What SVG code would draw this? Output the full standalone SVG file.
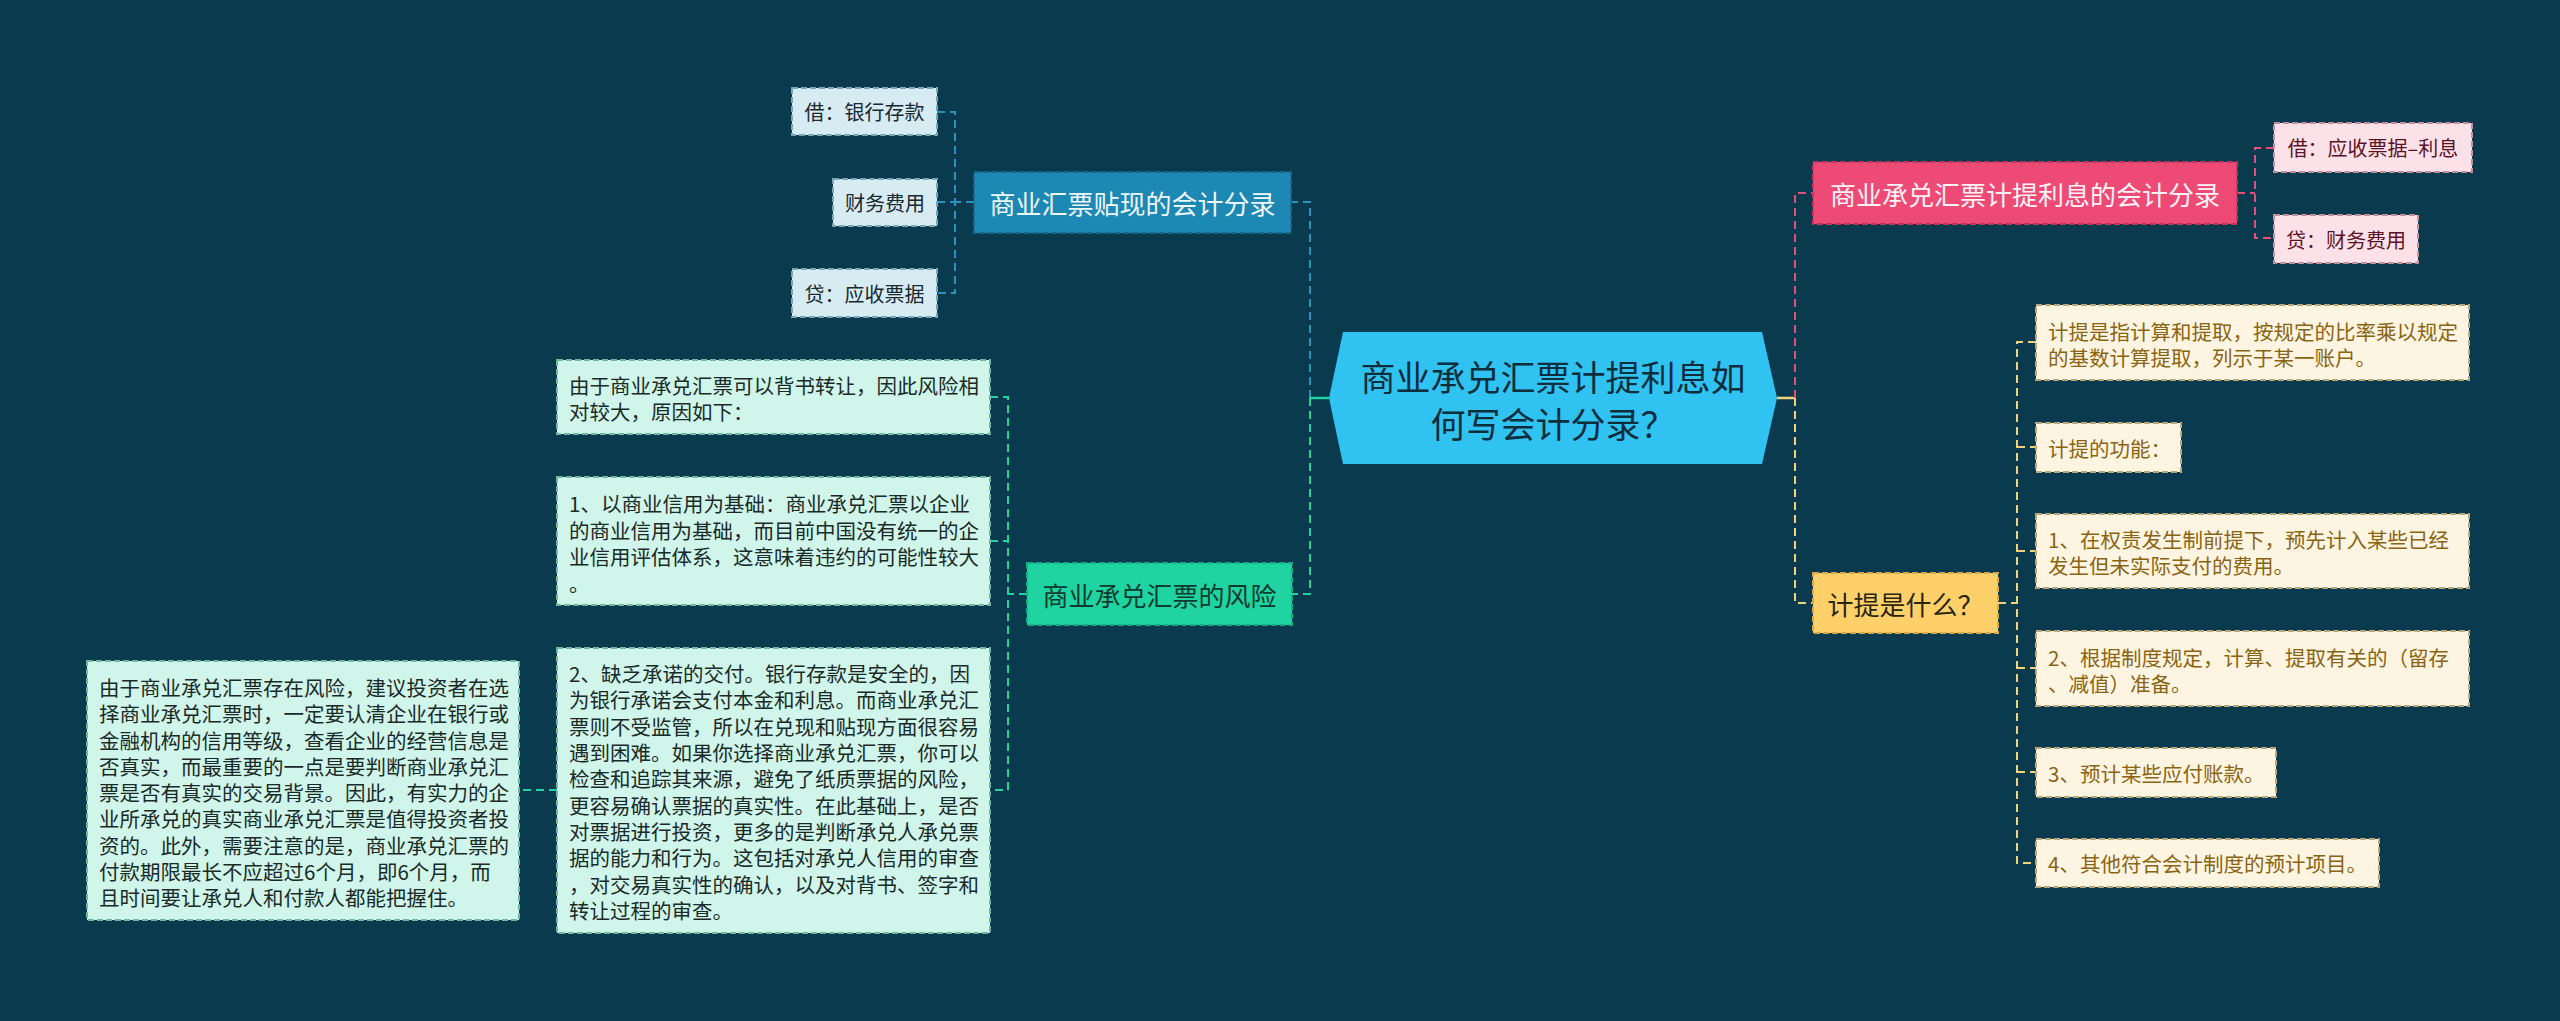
<svg xmlns="http://www.w3.org/2000/svg" width="2560" height="1021" viewBox="0 0 2560 1021">
<style>
text{font-family:"Noto Sans CJK SC","Noto Sans",sans-serif;dominant-baseline:central}
.c{stroke-width:2;fill:none;stroke-dasharray:8 5}
.s{stroke-width:2.5;fill:none}
.blue{stroke:#2a93bd}.green{stroke:#22d3a2}.pink{stroke:#e24f78}.yel{stroke:#f3d27a}
.box{stroke-width:2;stroke-dasharray:6 3}
.mid{font-size:26px;text-anchor:middle}
.lf{font-size:20.5px}
.lfc{font-size:20px;text-anchor:middle}
</style>
<rect width="2560" height="1021" fill="#0a3a4d"/>
<g id="connectors">
  <path class="c blue" d="M1310,398 V202 H1291"/>
  <path class="c blue" d="M974,202 H955 M937,112 H955 V293 H937 M937,202 H955"/>
  <path class="s green" d="M1329,398 H1310"/>
  <path class="c green" d="M1310,398 V594 H1292"/>
  <path class="c green" d="M1027,594 H1008 M990,397 H1008 V790 H990 M990,541 H1008"/>
  <path class="c green" d="M557,790 H519"/>
  <path class="s yel" d="M1777,398 H1795"/>
  <path class="c pink" d="M1795,398 V193 H1813"/>
  <path class="c pink" d="M2237,193 H2255 M2274,148 H2255 V238 H2274"/>
  <path class="c yel" d="M1795,398 V603 H1813"/>
  <path class="c yel" d="M1998,603 H2017 M2036,342 H2017 V863 H2036 M2017,447 H2036 M2017,551 H2036 M2017,668 H2036 M2017,772 H2036"/>
</g>
<g id="center">
  <polygon points="1329,398 1343,332 1762,332 1777,398 1762,464 1343,464" fill="#30c3f2"/>
  <text x="1553" y="375" font-size="35" text-anchor="middle" fill="#0f2d3b">商业承兑汇票计提利息如</text>
  <text x="1553" y="422" font-size="35" text-anchor="middle" fill="#0f2d3b">何写会计分录？</text>
</g>
<g id="n-discount">
  <rect class="box" x="974" y="172" width="317" height="61" fill="#1d88b3" stroke="#136a8c"/>
  <text class="mid" x="1132.5" y="202.5" fill="#eef8fb">商业汇票贴现的会计分录</text>
</g>
<g id="n-discount-1">
  <rect class="box" x="792" y="88" width="145" height="47" fill="#d6ebf2" stroke="#7aa5b5"/>
  <text class="lfc" x="864.5" y="111.5" fill="#1a2830">借：银行存款</text>
</g>
<g id="n-discount-2">
  <rect class="box" x="833" y="179" width="104" height="47" fill="#d6ebf2" stroke="#7aa5b5"/>
  <text class="lfc" x="885" y="202.5" fill="#1a2830">财务费用</text>
</g>
<g id="n-discount-3">
  <rect class="box" x="792" y="269" width="145" height="48" fill="#d6ebf2" stroke="#7aa5b5"/>
  <text class="lfc" x="864.5" y="293" fill="#1a2830">贷：应收票据</text>
</g>
<g id="n-risk">
  <rect class="box" x="1027" y="563" width="265" height="62" fill="#1fd4a0" stroke="#15ae82"/>
  <text class="mid" x="1159.5" y="594" fill="#0e3a30">商业承兑汇票的风险</text>
</g>
<g id="n-risk-1">
  <rect class="box" x="557" y="360" width="433" height="74" fill="#d0f5ea" stroke="#6fb7a3"/>
  <text class="lf" fill="#1a2a28"><tspan x="569" y="385">由于商业承兑汇票可以背书转让，因此风险相</tspan><tspan x="569" y="411">对较大，原因如下：</tspan></text>
</g>
<g id="n-risk-2">
  <rect class="box" x="557" y="477" width="433" height="128" fill="#d0f5ea" stroke="#6fb7a3"/>
  <text class="lf" fill="#1a2a28"><tspan x="569" y="503">1、以商业信用为基础：商业承兑汇票以企业</tspan><tspan x="569" y="529.5">的商业信用为基础，而目前中国没有统一的企</tspan><tspan x="569" y="556">业信用评估体系，这意味着违约的可能性较大</tspan><tspan x="569" y="582.5">。</tspan></text>
</g>
<g id="n-risk-3">
  <rect class="box" x="557" y="648" width="433" height="285" fill="#d0f5ea" stroke="#6fb7a3"/>
  <text class="lf" fill="#1a2a28"><tspan x="569" y="673">2、缺乏承诺的交付。银行存款是安全的，因</tspan><tspan x="569" y="699.3">为银行承诺会支付本金和利息。而商业承兑汇</tspan><tspan x="569" y="725.6">票则不受监管，所以在兑现和贴现方面很容易</tspan><tspan x="569" y="752">遇到困难。如果你选择商业承兑汇票，你可以</tspan><tspan x="569" y="778.3">检查和追踪其来源，避免了纸质票据的风险，</tspan><tspan x="569" y="804.6">更容易确认票据的真实性。在此基础上，是否</tspan><tspan x="569" y="831">对票据进行投资，更多的是判断承兑人承兑票</tspan><tspan x="569" y="857.3">据的能力和行为。这包括对承兑人信用的审查</tspan><tspan x="569" y="883.6">，对交易真实性的确认，以及对背书、签字和</tspan><tspan x="569" y="910">转让过程的审查。</tspan></text>
</g>
<g id="n-risk-3-1">
  <rect class="box" x="87" y="661" width="432" height="259" fill="#d0f5ea" stroke="#6fb7a3"/>
  <text class="lf" fill="#1a2a28"><tspan x="99" y="687">由于商业承兑汇票存在风险，建议投资者在选</tspan><tspan x="99" y="713.25">择商业承兑汇票时，一定要认清企业在银行或</tspan><tspan x="99" y="739.5">金融机构的信用等级，查看企业的经营信息是</tspan><tspan x="99" y="765.75">否真实，而最重要的一点是要判断商业承兑汇</tspan><tspan x="99" y="792">票是否有真实的交易背景。因此，有实力的企</tspan><tspan x="99" y="818.25">业所承兑的真实商业承兑汇票是值得投资者投</tspan><tspan x="99" y="844.5">资的。此外，需要注意的是，商业承兑汇票的</tspan><tspan x="99" y="870.75">付款期限最长不应超过6个月，即6个月，而</tspan><tspan x="99" y="897">且时间要让承兑人和付款人都能把握住。</tspan></text>
</g>
<g id="n-interest">
  <rect class="box" x="1813" y="162" width="424" height="62" fill="#ee4a76" stroke="#c4335a"/>
  <text class="mid" x="2025" y="193" fill="#fff3f6">商业承兑汇票计提利息的会计分录</text>
</g>
<g id="n-interest-1">
  <rect class="box" x="2274" y="123" width="198" height="49" fill="#fde1e8" stroke="#c2909c"/>
  <text class="lfc" x="2373" y="147.5" fill="#5c1226">借：应收票据–利息</text>
</g>
<g id="n-interest-2">
  <rect class="box" x="2274" y="215" width="144" height="48" fill="#fde1e8" stroke="#c2909c"/>
  <text class="lfc" x="2346" y="239" fill="#5c1226">贷：财务费用</text>
</g>
<g id="n-what">
  <rect class="box" x="1813" y="573" width="185" height="60" fill="#fdd06a" stroke="#d9a848"/>
  <text class="mid" x="1905.5" y="603" fill="#2a2410">计提是什么？</text>
</g>
<g id="n-what-1">
  <rect class="box" x="2036" y="305" width="433" height="75" fill="#fdf5e1" stroke="#b9a77a"/>
  <text class="lf" fill="#8a6412"><tspan x="2048" y="331">计提是指计算和提取，按规定的比率乘以规定</tspan><tspan x="2048" y="357">的基数计算提取，列示于某一账户。</tspan></text>
</g>
<g id="n-what-2">
  <rect class="box" x="2036" y="423" width="145" height="49" fill="#fdf5e1" stroke="#b9a77a"/>
  <text class="lf" x="2048" y="447.5" fill="#8a6412">计提的功能：</text>
</g>
<g id="n-what-3">
  <rect class="box" x="2036" y="514" width="433" height="74" fill="#fdf5e1" stroke="#b9a77a"/>
  <text class="lf" fill="#8a6412"><tspan x="2048" y="539">1、在权责发生制前提下，预先计入某些已经</tspan><tspan x="2048" y="565">发生但未实际支付的费用。</tspan></text>
</g>
<g id="n-what-4">
  <rect class="box" x="2036" y="631" width="433" height="75" fill="#fdf5e1" stroke="#b9a77a"/>
  <text class="lf" fill="#8a6412"><tspan x="2048" y="657">2、根据制度规定，计算、提取有关的（留存</tspan><tspan x="2048" y="683">、减值）准备。</tspan></text>
</g>
<g id="n-what-5">
  <rect class="box" x="2036" y="748" width="240" height="49" fill="#fdf5e1" stroke="#b9a77a"/>
  <text class="lf" x="2048" y="772.5" fill="#8a6412">3、预计某些应付账款。</text>
</g>
<g id="n-what-6">
  <rect class="box" x="2036" y="839" width="343" height="48" fill="#fdf5e1" stroke="#b9a77a"/>
  <text class="lf" x="2048" y="863" fill="#8a6412">4、其他符合会计制度的预计项目。</text>
</g>
</svg>
